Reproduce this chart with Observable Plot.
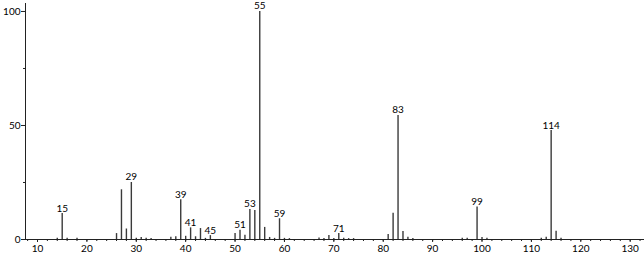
<!DOCTYPE html>
<html>
<head>
<meta charset="utf-8">
<script src="https://cdn.jsdelivr.net/npm/d3@7"></script>
<script src="https://cdn.jsdelivr.net/npm/@observablehq/plot@0.6"></script>
<style>
  html, body { margin: 0; padding: 0; background: white; }
</style>
</head>
<body>
<div id="chart"></div>
<script>
const mz =        [14, 15, 16, 18, 26, 27, 28, 29, 30, 31, 32, 33, 37, 38, 39, 40, 41, 42, 43, 44, 45, 50, 51, 52, 53, 54, 55, 56, 57, 58, 59, 60, 61, 67, 68, 69, 70, 71, 72, 73, 74, 81, 82, 83, 84, 85, 86, 96, 97, 99, 100, 101, 112, 113, 114, 115, 116];
const intensity = [0.5, 11.4, 0.6, 0.5, 2.6, 21.8, 4.6, 25, 0.5, 0.9, 0.6, 0.4, 1.0, 1.2, 17.4, 1.4, 5.1, 1.2, 4.8, 0.5, 1.7, 2.6, 4.1, 1.9, 13.2, 12.7, 100, 5.3, 0.9, 0.5, 9.1, 0.5, 0.4, 0.7, 0.4, 1.7, 0.4, 2.6, 0.5, 0.4, 0.4, 2.2, 11.5, 54.4, 3.5, 1.0, 0.4, 0.6, 0.5, 14.2, 0.9, 0.5, 0.6, 1.0, 47.8, 3.6, 0.5];
const labeledPeaks = [15, 29, 39, 41, 45, 51, 53, 55, 59, 71, 83, 99, 114];
const xMajorTicks = [10, 20, 30, 40, 50, 60, 70, 80, 90, 100, 110, 120, 130];
const xMinorTicks = d3.range(8, 133, 2);
const yMajorTicks = [0, 50, 100];
const yMinorTicks = [25, 75];
const xDomain = [7.57, 132.9];
const yDomain = [0, 103.5];

const peaks = mz.map((m, i) => ({mz: m, intensity: intensity[i]}));
const labels = peaks.filter(d => labeledPeaks.includes(d.mz));

const chart = Plot.plot({
  width: 644,
  height: 256,
  marginLeft: 25,
  marginRight: 0,
  marginTop: 3,
  marginBottom: 17,
  style: {fontFamily: "Lato", fontSize: "10px", background: "white", color: "black"},
  x: {domain: xDomain, label: null},
  y: {domain: yDomain, label: null},
  marks: [
    Plot.ruleX(peaks, {x: "mz", y1: 0, y2: "intensity", stroke: "#3a3a3a", strokeWidth: 1.4}),
    Plot.ruleY([yDomain[0]], {stroke: "#222"}),
    Plot.ruleX([xDomain[0]], {stroke: "#222"}),
    Plot.axisX({ticks: xMinorTicks, tickSize: 2, text: null, label: null, stroke: "#222"}),
    Plot.axisX({ticks: xMajorTicks, tickSize: 3, tickPadding: 2, label: null, stroke: "#222"}),
    Plot.axisY({ticks: yMinorTicks, tickSize: 2, text: null, label: null, stroke: "#222"}),
    Plot.axisY({ticks: yMajorTicks, tickSize: 4, tickPadding: 1, label: null, stroke: "#222"}),
    Plot.text(labels, {x: "mz", y: "intensity", text: d => String(d.mz), lineAnchor: "bottom", dy: -2, fill: "black"})
  ]
});
document.getElementById("chart").append(chart);
</script>
</body>
</html>
